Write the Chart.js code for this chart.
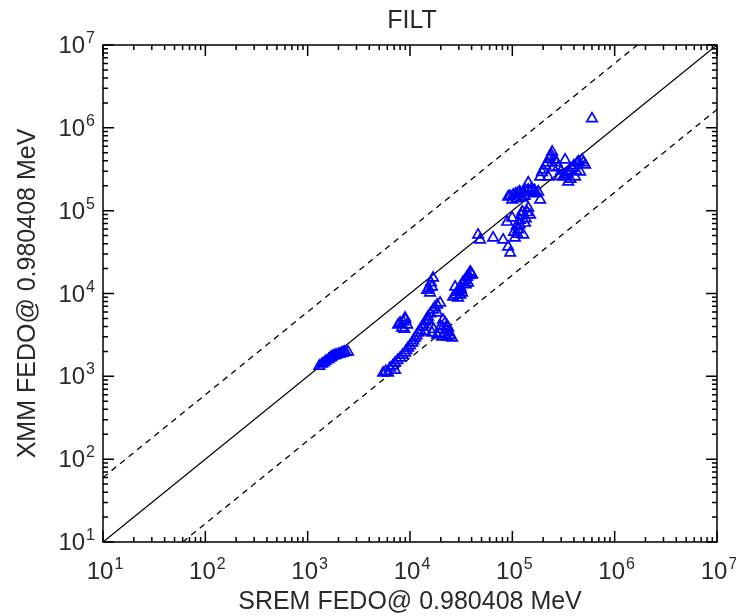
<!DOCTYPE html>
<html>
<head>
<meta charset="utf-8">
<title>FILT</title>
<script src="https://cdn.jsdelivr.net/npm/chart.js@4.4.1/dist/chart.umd.min.js"></script>
<style>
  html,body{margin:0;padding:0;background:#fff;}
</style>
</head>
<body>
<canvas id="fedoChart" width="736" height="616"></canvas>
<script>
// SREM vs XMM electron flux, 0.980408 MeV channel
const sremFedo = [
  1300,1380,1450,1510,1600,1660,1700,1770,1850,1900,2000,2070,2150,2200,2270,2350,2480,
  5460,5800,6110,6390,6800,7150,7150,7550,8000,8450,8950,9200,9570,10000,10500,10800,11200,11600,
  12000,12500,13100,13600,14100,14500,15000,15800,16800,17500,18400,19700,
  7650,8570,8370,9380,8950,8000,9000,8800,
  14700,16400,16800,15700,15200,16000,
  26400,28800,30900,33000,36100,38700,40500,27600,32300,29500,37000,
  28000,30000,31500,34500,35000,37500,39500,31000,
  14100,16400,18400,20600,23100,25800,22000,23600,15000,18400,
  19500,21500,24500,22500,20000,24000,17000,21000,23000,
  46300,48400,64900,81300,91000,95300,
  89000,99600,125000,149000,133000,114000,128000,106000,119000,143000,
  110000,118000,135000,140000,122000,104000,112000,
  91000,102000,114000,128000,143000,160000,179000,99600,125000,187000,143000,
  95000,108000,120000,135000,150000,170000,155000,110000,132000,165000,118000,
  187000,200000,219000,234000,245000,262000,224000,281000,
  195000,210000,228000,240000,270000,250000,
  314000,344000,385000,430000,481000,515000,411000,351000,460000,328000,
  300000,330000,360000,400000,445000,495000,420000,370000,290000,
  600000
];
const xmmFedo = [
  1330,1410,1460,1535,1600,1670,1700,1760,1790,1810,1850,1865,1900,1920,1970,1940,1970,
  1100,1150,1100,1260,1350,1190,1450,1560,1670,1800,1920,2050,2200,2350,2530,2700,2910,3100,
  3340,3600,3950,4200,4540,4850,5220,5700,6340,6800,7280,7700,
  4180,4540,3840,4180,5080,4400,4800,3700,
  11000,12000,15400,10200,11500,13500,
  9100,10400,12000,13800,15800,18200,16800,12000,10200,8850,13400,
  9600,10900,11200,14500,12800,16500,17500,9600,
  3440,3340,3160,2990,2990,2910,4420,3840,4800,5830,
  3300,3200,3100,3600,4000,3400,3700,4800,4100,
  51000,44400,46900,44400,36500,30900,
  73000,82000,97000,89000,71000,59000,51000,47000,77000,108000,
  65000,68000,80000,95000,88000,55000,52000,
  147000,155000,164000,169000,178000,164000,169000,135000,143000,135000,217000,
  150000,160000,158000,175000,170000,160000,185000,140000,150000,175000,170000,
  256000,311000,378000,447000,513000,411000,256000,338000,
  290000,350000,420000,470000,380000,330000,
  256000,286000,329000,378000,411000,357000,256000,223000,294000,411000,
  300000,270000,300000,350000,390000,380000,300000,240000,260000,
  1290000
];
const decades = [1,2,3,4,5,6,7];   // 10^1 .. 10^7 on both axes
const axisMin = 10, axisMax = 1e7;
const bandFactor = 6;              // dashed lines: factor of 6 either side

const points = sremFedo.map((v,i)=>({x:v, y:xmmFedo[i]}));

const FONT = '"Liberation Sans", Arial, sans-serif';

function expLabel(ctx, e, x, y, align){
  ctx.font = '24px ' + FONT;
  const wb = ctx.measureText('10').width;
  ctx.font = '16px ' + FONT;
  const ws = ctx.measureText(String(e)).width;
  const total = wb + ws + 1;
  let x0 = align === 'right' ? x - total : x - total/2;
  ctx.font = '24px ' + FONT;
  ctx.fillText('10', x0, y);
  ctx.font = '16px ' + FONT;
  ctx.fillText(String(e), x0 + wb + 1, y - 10);
}

// IDL style box: inward ticks on all four sides, exponent labels, titles
const idlAxes = {
  id:'idlAxes',
  afterDraw(chart){
    const {ctx, chartArea:a, scales:{x, y}} = chart;
    ctx.save();
    ctx.strokeStyle = '#000';
    ctx.lineWidth = 1.5;
    ctx.strokeRect(a.left, a.top, a.right-a.left, a.bottom-a.top);
    ctx.beginPath();
    decades.forEach((e,i)=>{
      for(let m=1;m<10;m++){
        if(i === decades.length-1 && m > 1) break;
        const v = m*Math.pow(10,e);
        const len = m===1 ? 11 : 5;
        const px = x.getPixelForValue(v);
        ctx.moveTo(px,a.bottom); ctx.lineTo(px,a.bottom-len);
        ctx.moveTo(px,a.top); ctx.lineTo(px,a.top+len);
        const py = y.getPixelForValue(v);
        ctx.moveTo(a.left,py); ctx.lineTo(a.left+len,py);
        ctx.moveTo(a.right,py); ctx.lineTo(a.right-len,py);
      }
    });
    ctx.stroke();

    ctx.fillStyle = '#2a2a2a';
    ctx.textBaseline = 'alphabetic';
    ctx.textAlign = 'left';
    decades.forEach(e=>{
      const v = Math.pow(10,e);
      expLabel(ctx, e, x.getPixelForValue(v)+2, a.bottom+37, 'center');
      expLabel(ctx, e, a.left-8, y.getPixelForValue(v)+8, 'right');
    });

    ctx.textAlign = 'center';
    ctx.font = '25px ' + FONT;
    ctx.fillText('FILT', (a.left+a.right)/2 + 2, 28);
    ctx.fillText('SREM FEDO@ 0.980408 MeV', (a.left+a.right)/2, 609);
    ctx.save();
    ctx.translate(35, (a.top+a.bottom)/2);
    ctx.rotate(-Math.PI/2);
    ctx.fillText('XMM FEDO@ 0.980408 MeV', 0, 0);
    ctx.restore();
    ctx.restore();
  }
};

const ctx = document.getElementById('fedoChart').getContext('2d');
const chart = new Chart(ctx, {
  type:'scatter',
  data:{
    datasets:[{
      label:'FILT',
      data:points,
      pointStyle:'triangle',
      pointRadius:6,
      borderColor:'#0000ff',
      backgroundColor:'rgba(0,0,0,0)',
      borderWidth:1.7,
      order:0
    },{
      label:'1:1',
      type:'line',
      data:[{x:axisMin,y:axisMin},{x:axisMax,y:axisMax}],
      borderColor:'#000',
      borderWidth:1.3,
      pointRadius:0,
      order:1
    },{
      label:'x6',
      type:'line',
      data:[{x:axisMin,y:axisMin*bandFactor},{x:axisMax/bandFactor,y:axisMax}],
      borderColor:'#000',
      borderWidth:1.3,
      borderDash:[6,5],
      pointRadius:0,
      order:1
    },{
      label:'/6',
      type:'line',
      data:[{x:axisMin*bandFactor,y:axisMin},{x:axisMax,y:axisMax/bandFactor}],
      borderColor:'#000',
      borderWidth:1.3,
      borderDash:[6,5],
      pointRadius:0,
      order:1
    }]
  },
  options:{
    responsive:false,
    animation:false,
    layout:{padding:{left:103, top:45, right:19, bottom:74}},
    plugins:{legend:{display:false}, tooltip:{enabled:false}, title:{display:false}},
    scales:{
      x:{type:'logarithmic', min:axisMin, max:axisMax, display:false},
      y:{type:'logarithmic', min:axisMin, max:axisMax, display:false}
    }
  },
  plugins:[idlAxes]
});
</script>
</body>
</html>
